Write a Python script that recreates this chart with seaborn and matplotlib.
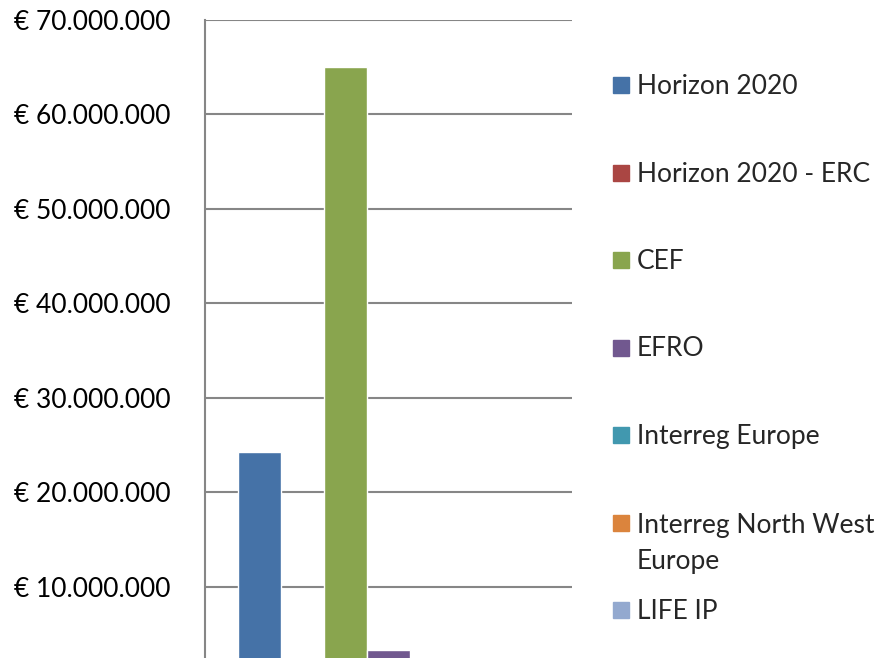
import textwrap
import matplotlib
matplotlib.use("Agg")
import matplotlib.pyplot as plt
from matplotlib.patches import Rectangle
from matplotlib.ticker import FuncFormatter
import pandas as pd
import seaborn as sns

# Funding per programme (EUR); the chart is cropped at the bottom,
# so bars below ~2.4M are not visible -> small values are estimates
programmes = ['Horizon 2020', 'Horizon 2020 - ERC', 'CEF', 'EFRO',
              'Interreg Europe', 'Interreg North West Europe', 'LIFE IP']
amounts = [24300000, 1500000, 65000000, 3300000, 1200000, 2000000, 1000000]
colors = ['#4572A7', '#AA4643', '#89A54E', '#71588F',
          '#4198AF', '#DB843D', '#93A9CF']
yticks = [10000000, 20000000, 30000000, 40000000, 50000000, 60000000, 70000000]

df = pd.DataFrame({'group': [''] * len(programmes),
                   'programme': programmes,
                   'amount': amounts})

sns.set_style('white')
plt.rcParams['font.family'] = ['Lato', 'DejaVu Sans']

W, H = 892, 658
fig = plt.figure(figsize=(W / 100, H / 100), dpi=100)
# plot area: x 205..572 px, y of 70M at 20 px, 0 at 681 px (below crop)
ax = fig.add_axes([205 / W, 1 - 681 / H, 367 / W, 661 / H])

sns.barplot(data=df, x='group', y='amount', hue='programme',
            hue_order=programmes, palette=colors, width=0.82,
            saturation=1, legend=False, ax=ax)

ax.set_ylim(0, 70000000)
ax.set_xlim(-0.5, 0.5)
ax.set_yticks(yticks)
ax.yaxis.set_major_formatter(FuncFormatter(
    lambda v, p: '€ ' + f'{int(v):,}'.replace(',', '.')))
ax.tick_params(axis='y', length=0, pad=25, labelsize=19, labelcolor='black')
ax.tick_params(axis='x', length=0, labelbottom=False)
ax.set_xlabel('')
ax.set_ylabel('')
ax.grid(axis='y', color='#868686', linewidth=1.5)
ax.set_axisbelow(True)
for s in ['top', 'right', 'bottom']:
    ax.spines[s].set_visible(False)
ax.spines['left'].set_color('#868686')
ax.spines['left'].set_linewidth(1.5)

# legend, drawn by hand to keep Excel-like spacing
for i, (name, c) in enumerate(zip(programmes, colors)):
    yc = 85 + 87.5 * i
    label = textwrap.fill(name, 19)
    extra = 38 * label.count('\n')  # baseline of multi-line text = last line
    fig.patches.append(Rectangle((613 / W, 1 - (yc + 8) / H), 16 / W, 16 / H,
                                 transform=fig.transFigure, color=c))
    fig.text(637 / W, 1 - (yc + 9 + extra) / H, label,
             fontsize=19, va='baseline', ha='left', linespacing=1.6)

fig.savefig('out.png', dpi=100)
